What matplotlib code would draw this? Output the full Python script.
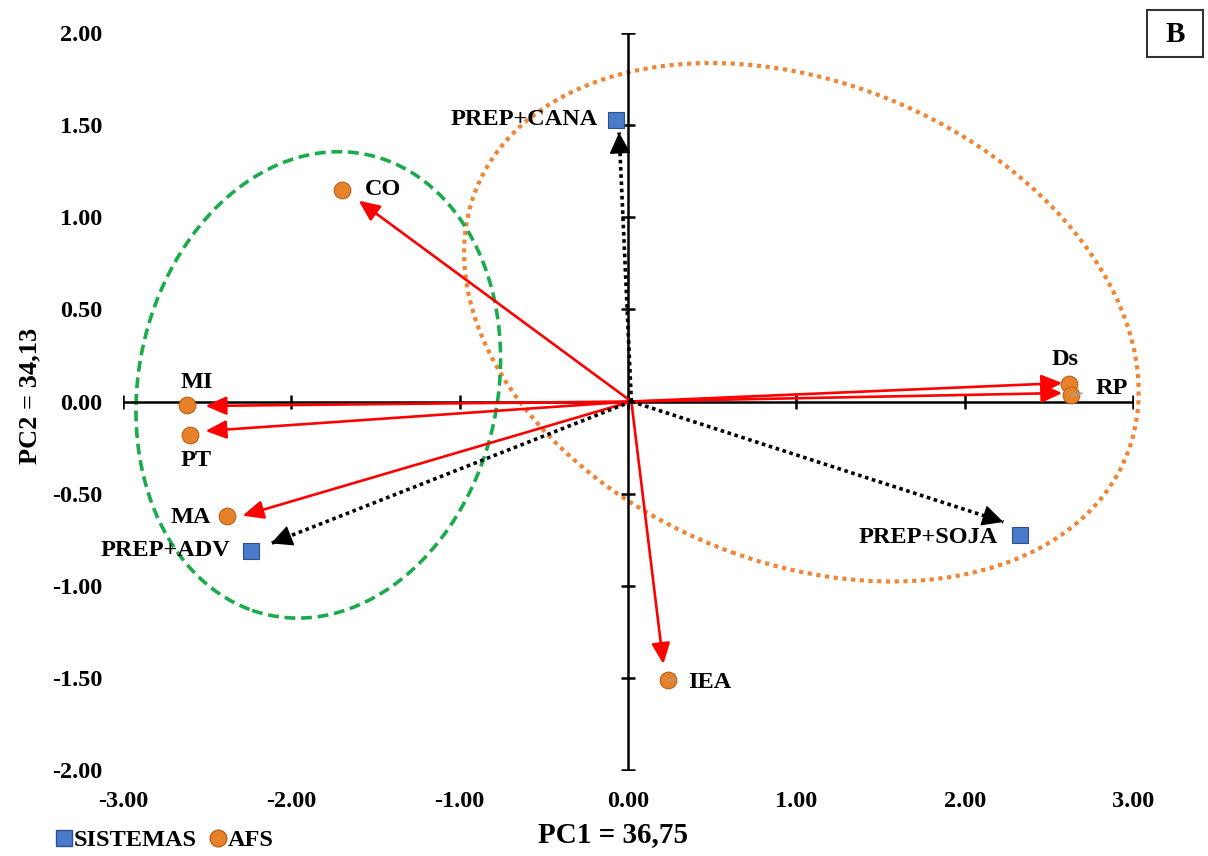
import matplotlib
matplotlib.use("Agg")
import matplotlib.pyplot as plt
from matplotlib.patches import Ellipse, Rectangle
from matplotlib.lines import Line2D

plt.rcParams["font.family"] = ["Liberation Serif", "DejaVu Serif"]
plt.rcParams["font.weight"] = "bold"

# AFS variables (points) and their loading vectors (arrow tips)
afs_names = ["CO", "MI", "PT", "MA", "IEA", "Ds", "RP"]
afs_x = [-1.70, -2.62, -2.60, -2.38, 0.24, 2.62, 2.63]
afs_y = [1.15, -0.02, -0.18, -0.62, -1.51, 0.095, 0.035]
afs_vx = [-1.60, -2.51, -2.51, -2.29, 0.21, 2.58, 2.58]
afs_vy = [1.09, -0.024, -0.16, -0.62, -1.425, 0.10, 0.046]

# systems (squares) and their vectors
sis_names = ["PREP+CANA", "PREP+ADV", "PREP+SOJA"]
sis_x = [-0.07, -2.24, 2.33]
sis_y = [1.53, -0.81, -0.725]
sis_vx = [-0.053, -2.12, 2.23]
sis_vy = [1.46, -0.77, -0.654]

origin = (0.02, 0.0)

x_ticks = [-3, -2, -1, 0, 1, 2, 3]
y_ticks = [-2.0, -1.5, -1.0, -0.5, 0.0, 0.5, 1.0, 1.5, 2.0]

# label offsets in pixels (dx, dy, ha, va)
afs_lab = {
    "CO": (23, 0, "left", "center"),
    "MI": (10, 23, "center", "center"),
    "PT": (6, -26, "center", "center"),
    "MA": (-16, -2, "right", "center"),
    "IEA": (20, -3, "left", "center"),
    "Ds": (-4, 24, "center", "center"),
    "RP": (25, 7, "left", "center"),
}
sis_lab = {
    "PREP+CANA": (-18, 0, "right", "center"),
    "PREP+ADV": (-21, 0, "right", "center"),
    "PREP+SOJA": (-22, -2, "right", "center"),
}

LABEL_SIZE = 17.5

fig = plt.figure(figsize=(12.08, 8.56), dpi=100)
ax = fig.add_axes([123 / 1208, 1 - 770 / 856, 1010 / 1208, 737 / 856])
ax.set_xlim(-3, 3)
ax.set_ylim(-2, 2)
for s in ax.spines.values():
    s.set_visible(False)

ax.set_xticks(x_ticks)
ax.set_xticklabels([f"{v:.2f}" for v in x_ticks])
ax.set_yticks(y_ticks)
ax.set_yticklabels([f"{v:.2f}" for v in y_ticks])
ax.tick_params(length=0, labelsize=17.5, pad=15)

# ellipses
ax.add_patch(Ellipse((-1.84, 0.09), 2.12, 2.57, angle=-17.8, fill=False,
                     edgecolor="#1AAB4B", lw=2.6, linestyle=(0, (3, 1.6)),
                     clip_on=False, zorder=2))
ax.add_patch(Ellipse((1.03, 0.43), 4.13, 2.63, angle=-18.3, fill=False,
                     edgecolor="#F08535", lw=3, linestyle=(0, (1, 1.1)),
                     clip_on=False, zorder=1))

# central axes with ticks
ax.plot([x_ticks[0], x_ticks[-1]], [0, 0], color="black", lw=1.8, zorder=3)
ax.plot([0, 0], [y_ticks[0], y_ticks[-1]], color="black", lw=1.8, zorder=3)
ax.plot(x_ticks, [0] * len(x_ticks), ls="none", marker="|", ms=10,
        mew=1.8, color="black", zorder=3)
ax.plot([0] * len(y_ticks), y_ticks, ls="none", marker="_", ms=10,
        mew=1.8, color="black", zorder=3)

# red arrows to AFS
for vx, vy in zip(afs_vx, afs_vy):
    ax.annotate("", xy=(vx, vy), xytext=origin,
                arrowprops=dict(arrowstyle="-|>,head_length=0.9,head_width=0.4",
                                mutation_scale=14, color="#FF0000", lw=1.9,
                                shrinkA=0, shrinkB=0), zorder=4)

# dotted black arrows to systems
for vx, vy in zip(sis_vx, sis_vy):
    ax.plot([origin[0], vx], [origin[1], vy], color="black", lw=2.6,
            linestyle=(0, (1, 1)), zorder=4)
    ax.annotate("", xy=(vx, vy),
                xytext=(vx - 0.01 * (vx - origin[0]), vy - 0.01 * (vy - origin[1])),
                arrowprops=dict(arrowstyle="-|>,head_length=0.9,head_width=0.45",
                                mutation_scale=15, color="black", lw=1,
                                shrinkA=0, shrinkB=0), zorder=4)

# points
ax.plot(afs_x, afs_y, ls="none", marker="o", ms=12, mfc="#E8822A",
        mec="#B8601A", mew=0.8, zorder=5)
ax.plot(sis_x, sis_y, ls="none", marker="s", ms=12, mfc="#4A7BCB",
        mec="#2E4F8E", mew=0.8, zorder=5)

for name, x, y in zip(afs_names, afs_x, afs_y):
    dx, dy, ha, va = afs_lab[name]
    if name in ("RP", "IEA"):
        ax.annotate(name, xy=(x, y), xytext=(dx, dy), textcoords="offset pixels",
                    ha=ha, va=va, fontsize=LABEL_SIZE, fontweight="bold", zorder=6,
                    arrowprops=dict(arrowstyle="-", color="#A0A0A0", lw=1.2,
                                    shrinkA=8, shrinkB=0))
    else:
        ax.annotate(name, xy=(x, y), xytext=(dx, dy), textcoords="offset pixels",
                    ha=ha, va=va, fontsize=LABEL_SIZE, fontweight="bold", zorder=6)

for name, x, y in zip(sis_names, sis_x, sis_y):
    dx, dy, ha, va = sis_lab[name]
    ax.annotate(name, xy=(x, y), xytext=(dx, dy), textcoords="offset pixels",
                ha=ha, va=va, fontsize=LABEL_SIZE, fontweight="bold", zorder=6)

# axis titles
fig.text(613 / 1208, 1 - 835 / 856, "PC1 = 36,75", ha="center", va="center",
         fontsize=21, fontweight="bold")
fig.text(30 / 1208, 1 - 396 / 856, "PC2 = 34,13", ha="center", va="center",
         rotation=90, fontsize=19, fontweight="bold")

# panel tag
fig.patches.append(Rectangle((1147 / 1208, 1 - 57 / 856), 56 / 1208, 47 / 856,
                             transform=fig.transFigure, fill=False,
                             ec="#333333", lw=1.5))
fig.text(1175 / 1208, 1 - 35 / 856, "B", ha="center", va="center", fontsize=21,
         fontweight="bold")

# legend
handles = [
    Line2D([], [], ls="none", marker="s", ms=12, mfc="#4A7BCB", mec="#2E4F8E"),
    Line2D([], [], ls="none", marker="o", ms=12, mfc="#E8822A", mec="#B8601A"),
]
fig.legend(handles, ["SISTEMAS", "AFS"], loc="center left",
           bbox_to_anchor=(54 / 1208, 1 - 840 / 856), ncol=2, frameon=False,
           handlelength=0.8, handletextpad=0.0, columnspacing=0.5,
           borderaxespad=0, borderpad=0,
           prop=dict(family="Liberation Serif", weight="bold", size=17.5))

fig.savefig("out.png", dpi=100)
